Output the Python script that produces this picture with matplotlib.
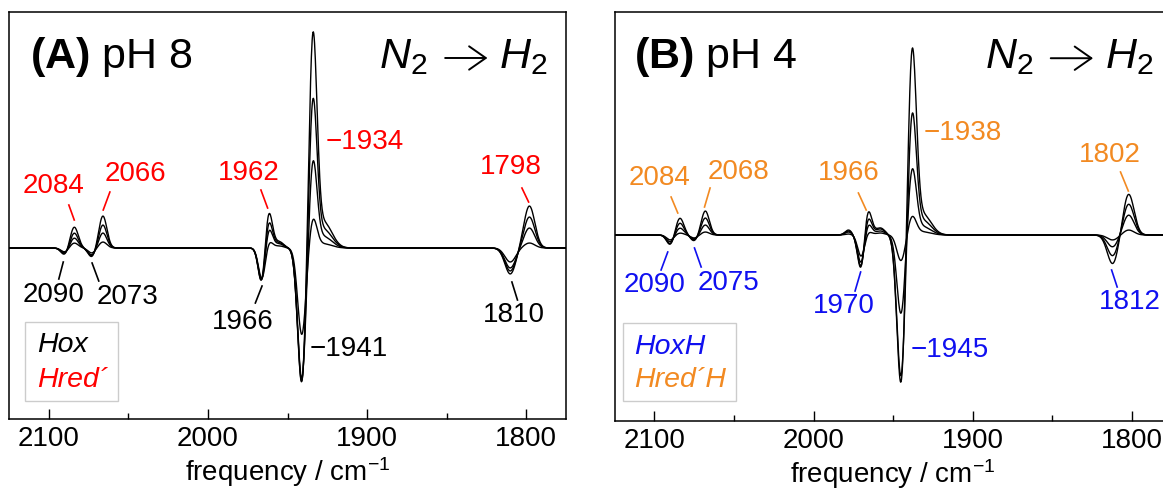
import numpy as np
import matplotlib
matplotlib.use("Agg")
import matplotlib.pyplot as plt
from matplotlib.patches import Rectangle
from matplotlib.ticker import MultipleLocator

plt.rcParams['font.family'] = ['Liberation Sans', 'DejaVu Sans']
plt.rcParams['mathtext.fontset'] = 'custom'
plt.rcParams['mathtext.rm'] = 'Liberation Sans'
plt.rcParams['mathtext.it'] = 'Liberation Sans:italic'
plt.rcParams['mathtext.bf'] = 'Liberation Sans:bold'

RED = '#ff0000'
ORANGE = '#f28a22'
BLUE = '#1010f0'

# band positions (cm-1), widths (sigma, cm-1) and amplitudes of the 4 difference spectra
a_centers = [2090, 2084, 2073, 2066, 1966, 1962, 1955, 1941, 1934, 1927, 1810, 1798]
a_widths = [2.3, 2.5, 2.3, 2.5, 2.2, 2.4, 2.6, 2.6, 2.5, 5.0, 3.4, 3.4]
a_amps = [
    [-0.07, 0.21, -0.09, 0.32, -0.40, 0.40, 0.06, -1.38, 2.10, 0.25, -0.26, 0.42],
    [-0.06, 0.15, -0.08, 0.23, -0.38, 0.30, 0.05, -1.36, 1.46, 0.18, -0.23, 0.31],
    [-0.05, 0.10, -0.07, 0.15, -0.36, 0.22, 0.04, -1.32, 0.86, 0.11, -0.20, 0.20],
    [-0.04, 0.05, -0.05, 0.06, -0.32, 0.08, 0.02, -0.87, 0.29, 0.04, -0.14, 0.05],
]

b_centers = [2090, 2084, 2075, 2068, 1978, 1970, 1966, 1958, 1945, 1938, 1931, 1812, 1802]
b_widths = [2.3, 2.5, 2.3, 2.5, 2.2, 2.2, 2.4, 2.8, 2.6, 2.6, 5.0, 3.4, 3.4]
b_amps = [
    [-0.10, 0.17, -0.06, 0.24, 0.05, -0.38, 0.28, 0.07, -1.52, 1.83, 0.20, -0.29, 0.41],
    [-0.09, 0.12, -0.05, 0.17, 0.04, -0.35, 0.20, 0.06, -1.44, 1.20, 0.14, -0.21, 0.31],
    [-0.07, 0.07, -0.04, 0.10, 0.03, -0.30, 0.13, 0.04, -0.80, 0.65, 0.08, -0.12, 0.20],
    [-0.05, 0.02, -0.03, 0.03, 0.01, -0.22, 0.04, 0.02, -0.26, 0.18, 0.03, -0.05, 0.05],
]

# peak labels: (text, colour key, text x, text y, leader line x0, x1, y0, y1)
a_labels = [
    ("2084", 'up', 2097.2, 0.62, 2087.4, 2084.0, 0.43, 0.28),
    ("2066", 'up', 2045.6, 0.74, 2061.6, 2065.8, 0.56, 0.38),
    ("1962", 'up', 1974.4, 0.75, 1966.7, 1962.5, 0.58, 0.40),
    ("1798", 'up', 1809.7, 0.81, 1802.7, 1798.5, 0.60, 0.46),
    ("2090", 'dn', 2097.2, -0.47, 2090.9, 2093.7, -0.14, -0.31),
    ("2073", 'dn', 2050.5, -0.49, 2072.8, 2068.6, -0.15, -0.33),
    ("1966", 'dn', 1977.9, -0.74, 1966.0, 1970.2, -0.38, -0.55),
    ("1810", 'dn', 1807.6, -0.67, 1809.0, 1805.5, -0.34, -0.52),
]
a_side = [("\u22121934", 'up', 1926.2, 1.06), ("\u22121941", 'dn', 1936.0, -1.01)]

b_labels = [
    ("2084", 'up', 2096.5, 0.57, 2089.5, 2085.3, 0.38, 0.22),
    ("2068", 'up', 2047.4, 0.63, 2065.0, 2068.5, 0.47, 0.28),
    ("1966", 'up', 1978.1, 0.62, 1971.8, 1966.9, 0.42, 0.25),
    ("1802", 'up', 1814.1, 0.80, 1807.1, 1802.2, 0.63, 0.44),
    ("2090", 'dn', 2100.0, -0.50, 2091.6, 2095.8, -0.17, -0.35),
    ("2075", 'dn', 2053.7, -0.48, 2074.8, 2070.6, -0.13, -0.32),
    ("1970", 'dn', 1980.9, -0.71, 1970.4, 1973.9, -0.37, -0.56),
    ("1812", 'dn', 1801.5, -0.67, 1812.7, 1809.2, -0.35, -0.52),
]
b_side = [("\u22121938", 'up', 1931.1, 1.02), ("\u22121945", 'dn', 1938.8, -1.15)]

wn = np.arange(2130, 1770, -0.25)


def spectrum(centers, widths, amps):
    y = np.zeros_like(wn)
    for c, w, a in zip(centers, widths, amps):
        y += a * np.exp(-(wn - c) ** 2 / (2 * w ** 2))
    return y


fig = plt.figure(figsize=(11.63, 4.90), dpi=100)
axA = fig.add_axes([9 / 1163, 71 / 490, 557 / 1163, 407 / 490])
# right part of panel B runs past the edge of the figure
axB = fig.add_axes([614.6 / 1163, 69 / 490, 557 / 1163, 409 / 490])


def setup(ax, ylim):
    ax.set_xlim(2125, 1775)
    ax.set_ylim(*ylim)
    ax.set_yticks([])
    ax.xaxis.set_major_locator(MultipleLocator(100))
    ax.xaxis.set_minor_locator(MultipleLocator(50))
    ax.tick_params(axis='x', which='major', direction='in', length=7, width=1,
                   labelsize=20, pad=5, top=False)
    ax.tick_params(axis='x', which='minor', direction='in', length=4, width=1, top=False)
    for s in ax.spines.values():
        s.set_linewidth(1.1)
    ax.set_xlabel("frequency / cm$^{-1}$", fontsize=20)
    ax.xaxis.set_label_coords(0.5, -0.131)
    ax.xaxis.label.set_va('center')


def reaction(ax, yb, ya):
    # N2 -> H2 with a thin open arrow between the two
    ax.text(0.751, yb, "$N_2$", transform=ax.transAxes, fontsize=31,
            ha='right', va='baseline')
    ax.annotate('', xy=(0.859, ya), xytext=(0.783, ya), xycoords='axes fraction',
                arrowprops=dict(arrowstyle='->,head_length=0.4,head_width=0.28',
                                lw=1.4, color='black', mutation_scale=30,
                                shrinkA=0, shrinkB=0))
    ax.text(0.880, yb, "$H_2$", transform=ax.transAxes, fontsize=31,
            ha='left', va='baseline')


def draw(ax, centers, widths, amps, labels, side, cols, title, legend, rect, ttl):
    for row in amps:
        ax.plot(wn, spectrum(centers, widths, row), color='black', lw=1.0)
    for txt, k, tx, ty, x0, x1, y0, y1 in labels:
        ax.text(tx, ty, txt, color=cols[k], fontsize=20, ha='center', va='center')
        ax.plot([x0, x1], [y0, y1], color=cols[k], lw=1.2)
    for txt, k, tx, ty in side:
        ax.text(tx, ty, txt, color=cols[k], fontsize=20, ha='left', va='center')
    ax.text(ttl[0], ttl[1], title, transform=ax.transAxes, fontsize=31,
            ha='left', va='baseline')
    reaction(ax, ttl[1], ttl[2])
    x0, x1, y0, y1 = rect[:4]
    ax.add_patch(Rectangle((x0, y0), x1 - x0, y1 - y0, transform=ax.transAxes,
                           fill=False, edgecolor='#cccccc', lw=1))
    for (txt, k), yy in zip(legend, rect[4]):
        ax.text(rect[5], yy, txt, color=cols[k], style='italic', fontsize=20.5,
                transform=ax.transAxes, ha='left', va='center')


setup(axA, (-1.71, 2.36))
draw(axA, a_centers, a_widths, a_amps, a_labels, a_side,
     {'up': RED, 'dn': 'black'}, r"$\mathbf{(A)}$ pH 8",
     [("Hox", 'dn'), ("Hred\u00b4", 'up')],
     (0.029, 0.196, 0.044, 0.238, (0.182, 0.096), 0.050), (0.037, 0.862, 0.887))

setup(axB, (-1.86, 2.23))
draw(axB, b_centers, b_widths, b_amps, b_labels, b_side,
     {'up': ORANGE, 'dn': BLUE}, r"$\mathbf{(B)}$ pH 4",
     [("HoxH", 'dn'), ("Hred\u00b4H", 'up')],
     (0.0147, 0.218, 0.049, 0.240, (0.181, 0.100), 0.035), (0.035, 0.863, 0.887))

fig.savefig("out.png", dpi=100)
